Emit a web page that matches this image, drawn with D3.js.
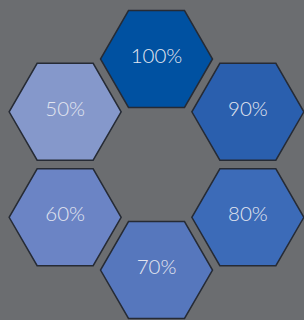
<!DOCTYPE html>
<html><head><meta charset="utf-8">
<script src="https://cdn.jsdelivr.net/npm/d3@7"></script>
<style>body{margin:0;background:#6b6d70;}svg{display:block;}</style>
</head><body>
<svg id="c" width="304" height="320"></svg>
<script>
const labels = ["100%","90%","80%","70%","60%","50%"];
const values = [100,90,80,70,60,50];
const colors = ["#0051a1","#2a5fae","#3c6bb8","#5677bd","#6b84c5","#8598cb"];

const W=304,H=320, cx=156.5, cy=164.5, ring=105.5, r=56;
const svg=d3.select("#c");
svg.append("rect").attr("width",W).attr("height",H).attr("fill","#6b6d70");
const ang=d3.scaleOrdinal().domain(labels).range([-90,-30,30,90,150,210]);
const hex = d3.range(6).map(i=>[r*Math.cos(i*Math.PI/3), r*Math.sin(i*Math.PI/3)]);
const line=d3.line().curve(d3.curveLinearClosed);
const g=svg.selectAll("g.h").data(labels).join("g")
  .attr("transform",d=>{const a=ang(d)*Math.PI/180;return `translate(${cx+ring*Math.cos(a)},${cy+ring*Math.sin(a)})`;});
g.append("path").attr("d",line(hex)).attr("fill",(d,i)=>colors[i])
  .attr("stroke","#262b35").attr("stroke-width",1.5);
g.append("text").text(d=>d).attr("text-anchor","middle").attr("y",4)
  .attr("fill","#e3e6f0").attr("font-family","Lato").attr("font-weight",300).attr("font-size",20.5);
</script>
</body></html>
